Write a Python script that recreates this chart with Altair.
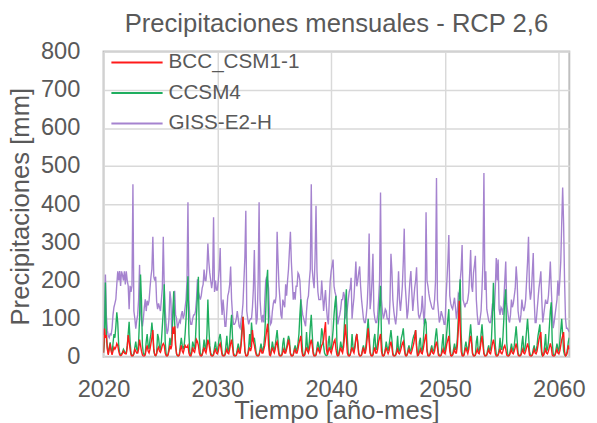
import altair as alt
import pandas as pd

start_year = 2020
series_names = ["BCC_CSM1-1", "CCSM4", "GISS-E2-H"]
series_colors = ["#ff1a1a", "#1fae5f", "#a583cf"]
x_ticks = [2020, 2030, 2040, 2050, 2060]
y_ticks = [0, 100, 200, 300, 400, 500, 600, 700, 800]

# Monthly precipitation [mm], one row per year (Jan..Dec), 2020-2060
giss = [
    57, 110, 216, 108, 70, 55, 50, 60, 58, 75, 110, 130,
    140, 151, 190, 224, 200, 225, 186, 224, 215, 200, 224, 190,
    224, 200, 186, 125, 186, 170, 186, 452, 120, 100, 74, 95,
    110, 150, 241, 120, 95, 80, 100, 130, 151, 120, 147, 135,
    147, 180, 210, 230, 315, 210, 200, 210, 145, 125, 140, 130,
    120, 150, 180, 315, 185, 125, 85, 60, 70, 100, 172, 150,
    60, 120, 150, 173, 110, 100, 75, 85, 95, 90, 110, 120,
    100, 110, 130, 150, 200, 405, 150, 100, 85, 85, 100, 110,
    110, 120, 150, 203, 170, 160, 150, 160, 180, 190, 229, 200,
    200, 230, 297, 250, 220, 200, 180, 200, 366, 170, 200, 175,
    175, 200, 230, 285, 150, 110, 150, 120, 80, 80, 120, 160,
    170, 190, 237, 150, 110, 85, 85, 90, 100, 120, 100, 80,
    75, 95, 110, 140, 200, 260, 383, 120, 100, 85, 95, 100,
    100, 130, 180, 280, 150, 85, 100, 200, 405, 150, 110, 90,
    110, 90, 150, 200, 210, 200, 180, 110, 85, 90, 120, 140,
    150, 140, 160, 328, 250, 185, 150, 110, 100, 150, 140, 130,
    190, 160, 200, 230, 280, 328, 250, 200, 150, 170, 150, 185,
    185, 220, 215, 200, 150, 130, 110, 100, 90, 80, 120, 150,
    160, 200, 230, 452, 230, 200, 180, 260, 396, 225, 170, 150,
    150, 150, 200, 160, 120, 150, 175, 130, 100, 85, 150, 200,
    225, 240, 255, 185, 170, 160, 130, 85, 100, 110, 125, 150,
    150, 170, 160, 100, 110, 125, 150, 170, 180, 207, 100, 130,
    155, 200, 250, 185, 200, 220, 237, 185, 150, 125, 100, 90,
    90, 110, 140, 200, 323, 125, 150, 200, 270, 120, 100, 90,
    90, 110, 150, 200, 431, 150, 120, 100, 110, 125, 120, 100,
    100, 85, 150, 270, 225, 150, 120, 100, 85, 110, 160, 224,
    150, 120, 150, 185, 250, 336, 190, 150, 100, 120, 160, 200,
    225, 170, 120, 150, 180, 200, 235, 150, 110, 100, 110, 120,
    160, 120, 85, 140, 379, 200, 185, 165, 150, 140, 130, 125,
    125, 150, 200, 469, 150, 120, 90, 100, 120, 110, 100, 85,
    85, 155, 200, 250, 319, 160, 140, 130, 125, 140, 155, 130,
    100, 120, 165, 160, 200, 230, 293, 150, 140, 130, 140, 140,
    150, 170, 220, 280, 185, 170, 220, 240, 265, 150, 110, 85,
    85, 100, 120, 180, 250, 482, 175, 224, 125, 110, 95, 90,
    90, 110, 140, 130, 120, 180, 259, 200, 255, 125, 110, 130,
    125, 110, 150, 200, 250, 140, 120, 100, 90, 110, 150, 130,
    140, 160, 180, 237, 200, 120, 100, 90, 110, 150, 130, 120,
    130, 150, 200, 250, 315, 180, 150, 170, 220, 272, 150, 90,
    90, 120, 150, 180, 200, 224, 150, 90, 110, 130, 150, 140,
    140, 160, 200, 250, 180, 120, 75, 90, 110, 130, 150, 200,
    160, 200, 250, 350, 444, 350, 200, 100, 75, 75, 70, 65,
]

ccsm4 = [
    12, 40, 195, 60, 25, 8, 25, 38, 20, 10, 35, 60,
    50, 80, 117, 90, 30, 10, 5, 8, 12, 20, 15, 10,
    10, 30, 60, 92, 40, 10, 5, 3, 8, 25, 40, 20,
    15, 40, 100, 216, 150, 30, 8, 5, 10, 40, 60, 30,
    20, 45, 60, 90, 60, 15, 5, 3, 10, 60, 50, 25,
    20, 40, 80, 120, 190, 40, 8, 3, 5, 25, 50, 30,
    50, 100, 172, 90, 30, 8, 3, 3, 8, 30, 50, 30,
    20, 30, 60, 100, 150, 211, 60, 10, 5, 15, 40, 30,
    20, 50, 110, 160, 210, 50, 10, 3, 5, 20, 45, 25,
    20, 60, 150, 80, 30, 10, 5, 3, 8, 25, 40, 20,
    15, 30, 50, 60, 40, 10, 5, 3, 5, 30, 55, 15,
    15, 40, 80, 110, 50, 10, 5, 3, 5, 20, 35, 20,
    15, 40, 80, 105, 60, 15, 5, 3, 5, 25, 60, 25,
    90, 60, 40, 50, 30, 10, 5, 3, 5, 20, 35, 20,
    15, 30, 60, 120, 200, 228, 80, 15, 5, 20, 40, 25,
    15, 30, 50, 70, 40, 10, 5, 3, 5, 35, 50, 20,
    15, 25, 40, 55, 45, 10, 5, 3, 5, 20, 30, 15,
    20, 35, 60, 110, 151, 50, 10, 3, 5, 20, 65, 25,
    15, 40, 80, 110, 60, 15, 5, 3, 5, 25, 40, 25,
    15, 40, 75, 60, 30, 10, 5, 3, 5, 40, 55, 20,
    20, 40, 70, 110, 140, 160, 40, 5, 5, 20, 40, 25,
    20, 40, 90, 140, 177, 50, 8, 3, 5, 20, 60, 25,
    15, 30, 50, 60, 40, 10, 5, 3, 5, 20, 30, 15,
    15, 40, 70, 100, 60, 15, 5, 3, 5, 45, 60, 20,
    20, 40, 90, 140, 186, 50, 8, 3, 5, 20, 40, 25,
    15, 30, 50, 70, 45, 10, 5, 3, 5, 20, 55, 15,
    15, 30, 50, 60, 75, 40, 10, 3, 5, 20, 30, 15,
    15, 30, 45, 55, 60, 70, 30, 5, 5, 40, 50, 15,
    15, 40, 80, 100, 90, 20, 5, 3, 5, 20, 30, 15,
    15, 30, 55, 75, 45, 10, 5, 3, 5, 35, 60, 15,
    15, 40, 70, 100, 125, 40, 8, 3, 5, 20, 35, 20,
    20, 50, 100, 160, 203, 60, 10, 3, 5, 25, 40, 25,
    15, 30, 60, 85, 50, 10, 5, 3, 5, 40, 55, 15,
    15, 30, 60, 85, 50, 10, 5, 3, 5, 20, 30, 15,
    20, 50, 110, 194, 120, 30, 8, 3, 5, 20, 50, 20,
    20, 50, 100, 150, 177, 40, 8, 3, 5, 20, 35, 20,
    15, 30, 55, 80, 45, 10, 5, 3, 5, 35, 55, 15,
    15, 40, 70, 100, 60, 15, 5, 3, 5, 20, 30, 15,
    15, 30, 55, 70, 85, 30, 5, 3, 5, 30, 60, 15,
    20, 40, 80, 120, 143, 40, 8, 3, 5, 20, 35, 20,
    15, 40, 70, 100, 60, 15, 5, 3, 5, 20, 40, 50,
]

bcc = [
    10, 74, 50, 57, 20, 5, 20, 35, 15, 5, 15, 25,
    20, 25, 35, 30, 15, 5, 3, 5, 10, 15, 10, 8,
    8, 25, 57, 40, 20, 5, 2, 3, 8, 20, 15, 10,
    10, 20, 45, 30, 15, 5, 2, 2, 5, 20, 30, 15,
    10, 20, 35, 50, 70, 20, 5, 3, 8, 20, 25, 15,
    12, 20, 30, 35, 30, 10, 3, 2, 5, 15, 30, 20,
    30, 79, 60, 80, 30, 8, 3, 2, 5, 20, 30, 15,
    10, 20, 30, 25, 25, 30, 10, 3, 2, 10, 25, 15,
    12, 25, 45, 40, 30, 10, 3, 2, 5, 15, 25, 15,
    10, 25, 45, 35, 20, 5, 2, 2, 5, 15, 20, 10,
    8, 15, 30, 35, 20, 5, 2, 2, 5, 12, 20, 10,
    8, 20, 35, 45, 25, 5, 2, 2, 4, 12, 20, 10,
    10, 30, 60, 105, 70, 15, 3, 2, 5, 15, 25, 15,
    25, 70, 40, 30, 15, 5, 2, 2, 5, 15, 20, 10,
    10, 20, 30, 50, 70, 87, 30, 5, 3, 15, 25, 15,
    10, 20, 35, 40, 20, 5, 2, 2, 5, 12, 20, 10,
    10, 20, 30, 45, 30, 8, 2, 2, 5, 15, 20, 10,
    10, 20, 35, 45, 55, 15, 3, 2, 5, 15, 25, 15,
    10, 20, 35, 45, 30, 8, 2, 2, 5, 15, 25, 15,
    10, 20, 30, 35, 45, 70, 91, 20, 5, 15, 25, 15,
    10, 20, 30, 40, 45, 20, 5, 2, 5, 15, 25, 15,
    10, 25, 50, 85, 50, 10, 3, 2, 5, 15, 25, 15,
    10, 25, 45, 60, 35, 8, 2, 2, 5, 15, 25, 10,
    10, 25, 50, 75, 40, 10, 3, 2, 5, 15, 25, 10,
    10, 20, 40, 50, 60, 15, 3, 2, 5, 15, 25, 15,
    8, 15, 30, 40, 25, 5, 2, 2, 5, 12, 20, 10,
    8, 15, 25, 35, 40, 20, 5, 2, 5, 12, 20, 10,
    8, 15, 25, 35, 50, 70, 25, 3, 5, 12, 20, 10,
    8, 20, 35, 50, 60, 15, 3, 2, 5, 12, 20, 10,
    8, 15, 30, 40, 25, 5, 2, 2, 5, 12, 20, 10,
    8, 20, 35, 45, 55, 15, 3, 2, 5, 12, 20, 10,
    10, 30, 70, 147, 80, 15, 3, 2, 5, 15, 25, 15,
    8, 20, 40, 55, 35, 8, 2, 2, 5, 12, 20, 10,
    8, 20, 40, 55, 30, 8, 2, 2, 5, 12, 20, 10,
    8, 20, 35, 45, 30, 8, 2, 2, 5, 12, 20, 10,
    8, 15, 25, 30, 20, 5, 2, 2, 5, 12, 20, 10,
    8, 15, 25, 35, 20, 5, 2, 2, 5, 12, 20, 10,
    8, 15, 25, 35, 25, 5, 2, 2, 5, 12, 20, 10,
    8, 15, 30, 45, 55, 65, 15, 2, 5, 12, 20, 10,
    8, 15, 25, 35, 25, 5, 2, 2, 5, 12, 20, 10,
    8, 15, 30, 45, 55, 65, 15, 2, 5, 12, 30, 20,
]

values_by_series = {"BCC_CSM1-1": bcc, "CCSM4": ccsm4, "GISS-E2-H": giss}

rows = []
for name, vals in values_by_series.items():
    for i, v in enumerate(vals):
        rows.append({"serie": name, "t": start_year + i / 12.0, "v": v})
df = pd.DataFrame(rows)

FONT = "Liberation Sans"
TXT = "#595959"

color_scale = alt.Scale(domain=series_names, range=series_colors)

x_enc = alt.X(
    "t:Q",
    scale=alt.Scale(domain=[2020, 2060.917], nice=False, zero=False),
    axis=alt.Axis(
        values=x_ticks, format="d", title="Tiempo [año-mes]",
        labelPadding=21, labelFlush=False, labelOverlap=False,
        titleY=42, titleBaseline="top",
    ),
)
y_enc = alt.Y(
    "v:Q",
    scale=alt.Scale(domain=[0, 800], nice=False),
    axis=alt.Axis(
        values=y_ticks, title="Precipitaciones [mm]",
        labelPadding=24, labelFlush=False, labelOverlap=False,
        titleX=-76, titleY=157, titleAngle=270, titleBaseline="alphabetic",
        titleAlign="center",
    ),
)

base = alt.Chart(df)
layers = []
for name in ["GISS-E2-H", "CCSM4", "BCC_CSM1-1"]:
    layers.append(
        base.transform_filter(alt.datum.serie == name)
        .mark_line(strokeWidth=1.4, clip=True)
        .encode(x=x_enc, y=y_enc,
                color=alt.Color("serie:N", scale=color_scale, legend=None))
    )

legend_rows = [11, 42, 73]
for name, ly in zip(series_names, legend_rows):
    ldf = pd.DataFrame({"serie": [name]})
    layers.append(
        alt.Chart(ldf).mark_rule(strokeWidth=2).encode(
            x=alt.value(8), x2=alt.value(60), y=alt.value(ly),
            color=alt.Color("serie:N", scale=color_scale, legend=None),
        )
    )
    layers.append(
        alt.Chart(ldf).mark_text(
            align="left", baseline="middle", fontSize=21, font=FONT, color=TXT
        ).encode(x=alt.value(66), y=alt.value(ly), text="serie:N")
    )

chart = (
    alt.layer(*layers)
    .properties(
        width=473,
        height=310,
        title=alt.TitleParams(
            "Precipitaciones mensuales - RCP 2,6",
            fontSize=26, font=FONT, color=TXT, fontWeight="normal",
            anchor="middle", baseline="alphabetic", offset=5, dy=23,
        ),
        autosize=alt.AutoSizeParams(type="none"),
        padding={"left": 97, "top": 41, "right": 20, "bottom": 70},
    )
    .configure_view(stroke="#bfbfbf", strokeWidth=2)
    .configure_axis(
        grid=True, gridColor="#d9d9d9", gridWidth=1.5,
        domain=False, ticks=False, tickSize=0,
        labelFont=FONT, labelFontSize=24, labelColor=TXT,
        titleFont=FONT, titleFontSize=26, titleColor=TXT, titleFontWeight="normal",
    )
)

chart.save("out.html", embed_options={"renderer": "svg", "actions": False})
